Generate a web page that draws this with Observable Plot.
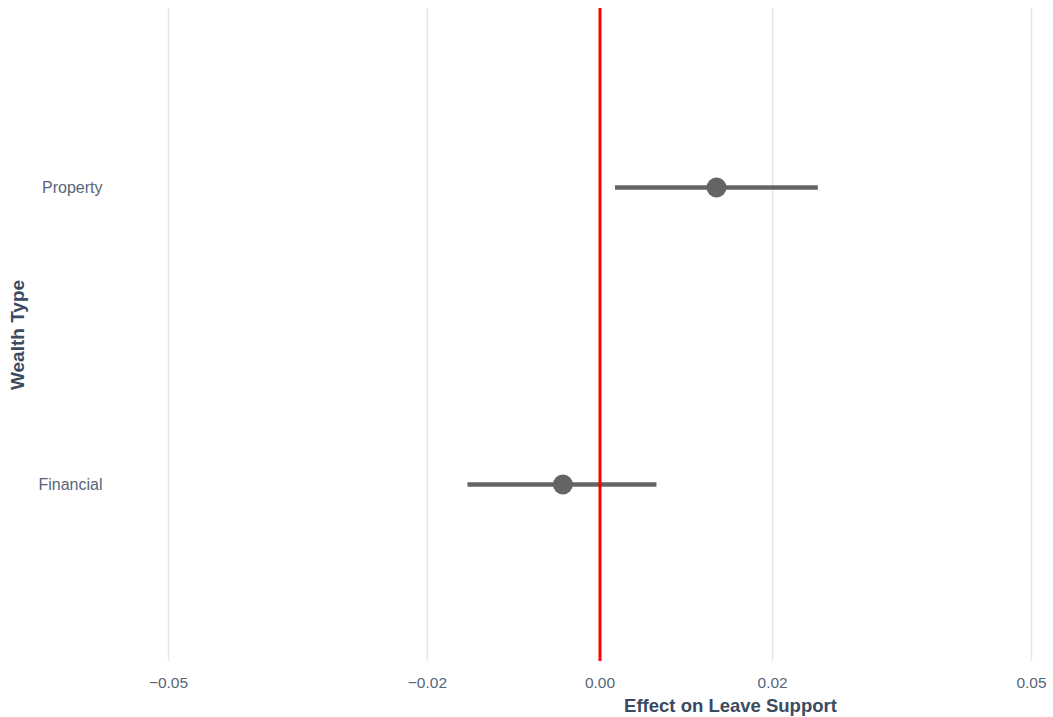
<!DOCTYPE html>
<html>
<head>
<meta charset="utf-8">
<script src="https://cdn.jsdelivr.net/npm/d3@7"></script>
<script src="https://cdn.jsdelivr.net/npm/@observablehq/plot@0.6"></script>
<style>
  html, body { margin: 0; padding: 0; background: #ffffff; }
  #chart svg { display: block; }
</style>
</head>
<body>
<div id="chart"></div>
<script>
const categories = ["Property", "Financial"];
const estimates = [0.0135, -0.0043];
const lower = [0.0018, -0.0153];
const upper = [0.0253, 0.0066];
const xTicks = [-0.05, -0.02, 0, 0.02, 0.05];
const referenceLine = [0];
const xTitle = "Effect on Leave Support";
const yTitle = "Wealth Type";

const rows = categories.map((c, i) => ({type: c, est: estimates[i], lo: lower[i], hi: upper[i]}));

const textColor = "#56667a";
const titleColor = "#3b4a5f";

const chart = Plot.plot({
  width: 1053,
  height: 717,
  marginTop: 8,
  marginBottom: 56,
  marginLeft: 110,
  marginRight: 0,
  style: {fontFamily: "'Liberation Sans', Arial, sans-serif", background: "#ffffff"},
  x: {domain: [-0.05, 0.05], range: [168, 1031]},
  y: {type: "point", domain: categories, range: [187, 484], padding: 0},
  marks: [
    Plot.gridX(xTicks, {stroke: "#e6e6e6", strokeOpacity: 1, strokeWidth: 1.5}),
    Plot.axisX(xTicks, {tickSize: 0, tickPadding: 15, fontSize: 15.5, fill: textColor, tickFormat: d3.format(".2f"), label: null}),
    Plot.axisY({tickSize: 0, tickPadding: 8, fontSize: 16, fill: textColor, label: null}),
    Plot.text([xTitle], {frameAnchor: "bottom", dx: 148.5, dy: 50, fontSize: 18.5, fontWeight: "bold", fill: titleColor}),
    Plot.text([yTitle], {frameAnchor: "left", textAnchor: "middle", dx: -93, rotate: -90, fontSize: 19, fontWeight: "bold", fill: titleColor}),
    Plot.ruleY(rows, {y: "type", x1: "lo", x2: "hi", stroke: "#646464", strokeWidth: 4.5}),
    Plot.dot(rows, {x: "est", y: "type", r: 10, fill: "#646464", stroke: "none"}),
    Plot.ruleX(referenceLine, {stroke: "#ff0000", strokeWidth: 3})
  ]
});
document.getElementById("chart").appendChild(chart);
</script>
</body>
</html>
